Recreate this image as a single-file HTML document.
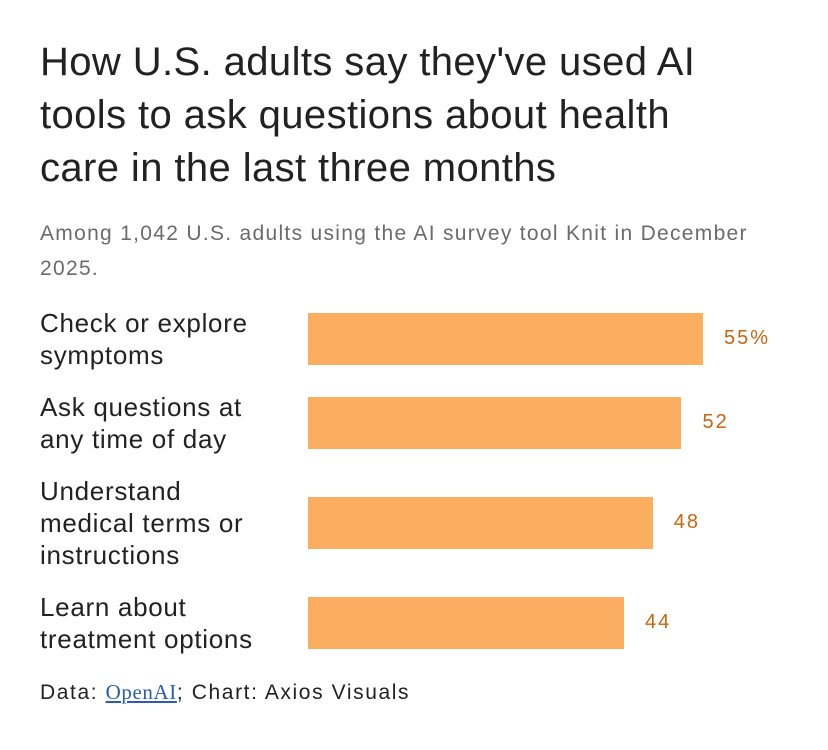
<!DOCTYPE html>
<html><head><meta charset="utf-8"><style>
body{margin:0;width:828px;height:750px;background:#fff;font-family:"Liberation Sans",sans-serif;position:relative;overflow:hidden}
.t{position:absolute;left:40px;top:36px;font-size:40px;line-height:53px;color:#222;letter-spacing:0.4px;margin:0;font-weight:normal;white-space:nowrap}
.s{position:absolute;left:40px;top:216px;font-size:21px;line-height:35px;color:#6b6b6b;width:780px;letter-spacing:1.3px;white-space:nowrap}
.l{position:absolute;left:40px;font-size:26px;line-height:32px;color:#222;letter-spacing:0.7px;white-space:nowrap}
.v{position:absolute;font-size:20px;color:#c8650f;letter-spacing:2px}
.b{position:absolute;left:308px;height:52px;background:#fbae5f}
.f{position:absolute;left:40px;top:680px;font-size:21px;color:#222;letter-spacing:1.6px}
.f a{color:#2a5db0;font-family:"Liberation Serif",serif;text-decoration:underline;letter-spacing:0.6px}
</style></head><body>
<h1 class="t">How U.S. adults say they've used AI<br>tools to ask questions about health<br>care in the last three months</h1>
<div class="s">Among 1,042 U.S. adults using the AI survey tool Knit in December<br>2025.</div>
<div id="chart"></div>
<div class="f">Data: <a>OpenAI</a>; Chart: Axios Visuals</div>
<script>
const categories=["Check or explore<br>symptoms","Ask questions at<br>any time of day","Understand<br>medical terms or<br>instructions","Learn about<br>treatment options"];
const values=[55,52,48,44];
const valueLabels=["55%","52","48","44"];
const barNames=["bar-symptoms","bar-any-time","bar-medical-terms","bar-treatment"];
const x0=308, scale=395/55;
const barTops=[313,397,497,597];
const c=document.getElementById('chart');
function xs(v){return v*scale;}
categories.forEach((cat,i)=>{
  const top=barTops[i];
  const lines=cat.split('<br>').length;
  const l=document.createElement('div');l.className='l';l.innerHTML=cat;
  l.style.top=(top+26-lines*16)+'px';
  
  
  c.appendChild(l);
  const b=document.createElement('div');b.className='b';
  b.style.top=top+'px';b.style.width=xs(values[i])+'px';
  
  
  c.appendChild(b);
  const v=document.createElement('div');v.className='v';v.textContent=valueLabels[i];
  v.style.left=(x0+xs(values[i])+21)+'px';v.style.top=(top+14)+'px';
  
  
  c.appendChild(v);
});
</script>
</body></html>
